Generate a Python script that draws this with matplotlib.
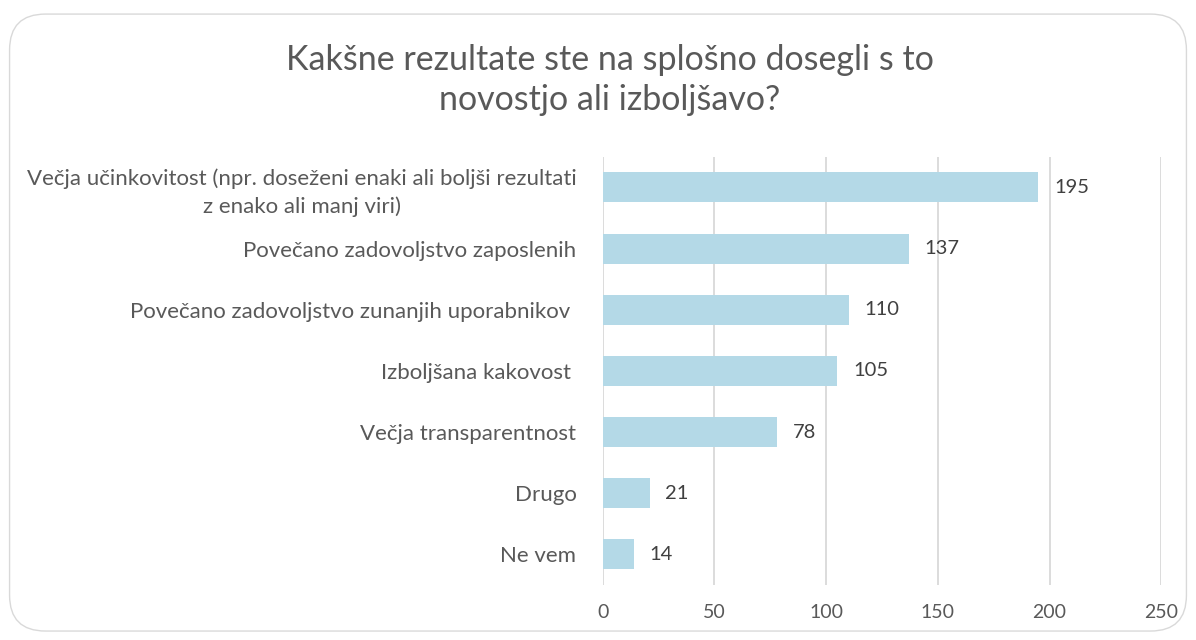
import matplotlib.pyplot as plt
from matplotlib.patches import FancyBboxPatch

# answers and counts, top to bottom
categories = [
    "Večja učinkovitost (npr. doseženi enaki ali boljši rezultati\nz enako ali manj viri)",
    "Povečano zadovoljstvo zaposlenih",
    "Povečano zadovoljstvo zunanjih uporabnikov ",
    "Izboljšana kakovost ",
    "Večja transparentnost",
    "Drugo",
    "Ne vem",
]
counts = [195, 137, 110, 105, 78, 21, 14]
xticks = [0, 50, 100, 150, 200, 250]

plt.rcParams['font.family'] = ['Lato', 'DejaVu Sans']

fig = plt.figure(figsize=(11.96, 6.4), dpi=100)
ax = fig.add_axes([0.504, 0.086, 0.467, 0.669])

# rounded frame around the whole chart
frame = FancyBboxPatch((0.008, 0.014), 0.984, 0.964,
                       boxstyle="round,pad=0,rounding_size=0.03",
                       transform=fig.transFigure, facecolor='none',
                       edgecolor='#d9d9d9', linewidth=1.0, mutation_aspect=1196/640)
fig.patches.append(frame)

pos = list(range(len(categories)))
ax.barh(pos, counts, height=0.49, color='#b4d9e7', zorder=3)
for p, v in zip(pos, counts):
    ax.text(v + 7, p, str(v), va='center', ha='left', fontsize=14.5, color='#404040')

ax.set_xlim(0, 250)
ax.set_ylim(len(categories) - 0.5, -0.5)
ax.set_xticks(xticks)
ax.set_yticks(pos)
ax.set_yticklabels(categories, fontsize=16, color='#595959')
ax.tick_params(axis='x', labelsize=14, colors='#595959', length=0, pad=14)
ax.tick_params(axis='y', length=0, pad=19)
for lab in ax.get_yticklabels():
    lab.set_horizontalalignment('right')
    lab.set_multialignment('center')
    lab.set_linespacing(1.4)
ax.grid(axis='x', color='#d9d9d9', linewidth=1.3, zorder=0)
for s in ax.spines.values():
    s.set_visible(False)

fig.text(0.51, 0.875, "Kakšne rezultate ste na splošno dosegli s to\nnovostjo ali izboljšavo?",
         ha='center', va='center', fontsize=24.5, color='#595959', linespacing=1.3)

fig.savefig('out.png', dpi=100)
